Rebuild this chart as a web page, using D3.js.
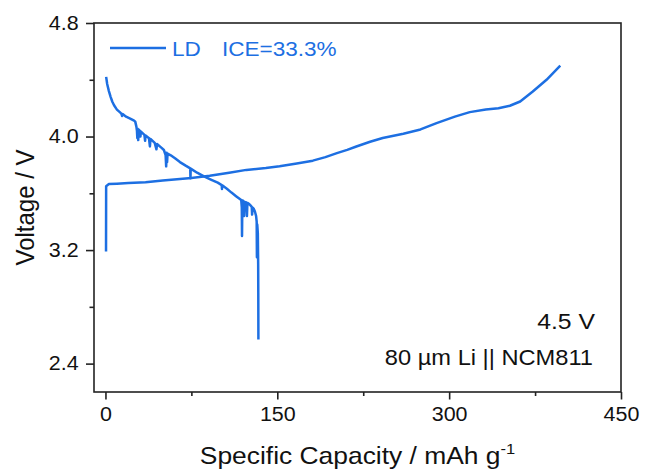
<!DOCTYPE html>
<html>
<head>
<meta charset="utf-8">
<script src="https://cdn.jsdelivr.net/npm/d3@7"></script>
<style>
  html, body { margin: 0; padding: 0; background: #fff; }
  svg { display: block; font-family: Arial, "Liberation Sans", sans-serif; }
</style>
</head>
<body>
<svg id="chart" width="645" height="474"></svg>
<script>
// ---------- data ----------
const chargeCap = [0.5, 0.6, 3, 10, 20, 35, 50, 65, 75, 91, 108, 123, 140, 152, 167, 181, 192, 202, 211, 219, 231, 242, 260, 275, 289, 305, 318, 332, 343, 353, 362, 373, 385, 397];
const chargeV   = [3.19, 3.65, 3.665, 3.668, 3.672, 3.678, 3.69, 3.70, 3.708, 3.723, 3.745, 3.765, 3.778, 3.79, 3.81, 3.83, 3.855, 3.883, 3.906, 3.93, 3.963, 3.99, 4.02, 4.05, 4.095, 4.14, 4.172, 4.19, 4.20, 4.217, 4.247, 4.317, 4.40, 4.50];

const dischargeCap = [0.6, 1.5, 3, 4.5, 6, 7.5, 10, 13, 14, 14.5, 15, 18, 22, 25, 26, 27, 27.5, 27.8, 28.1, 28.6, 29, 30, 30.5, 31, 34, 34.6, 35, 38, 38.8, 39.3, 43, 44.5, 45, 49, 51, 52.5, 53, 53.4, 53.8, 54.2, 57, 61, 65, 70, 74, 74.2, 74.4, 80, 86, 92, 98, 101.5, 101.7, 101.9, 106, 110, 114, 117, 118.5, 119, 119.2, 119.5, 120.5, 121, 121.4, 123, 123.5, 123.9, 125, 126, 127.7, 128, 128.4, 129.5, 130.5, 131.5, 132, 132.2, 132.5, 133, 133.3, 133.4, 133.5];
const dischargeV   = [4.42, 4.37, 4.32, 4.28, 4.245, 4.22, 4.19, 4.168, 4.16, 4.145, 4.158, 4.14, 4.125, 4.112, 4.105, 4.07, 4.04, 3.99, 4.055, 3.975, 4.05, 4.04, 4.0, 4.035, 4.012, 3.97, 4.008, 3.988, 3.93, 3.983, 3.955, 3.91, 3.947, 3.92, 3.905, 3.87, 3.79, 3.885, 3.82, 3.88, 3.868, 3.845, 3.82, 3.795, 3.776, 3.706, 3.774, 3.745, 3.72, 3.697, 3.675, 3.658, 3.63, 3.656, 3.632, 3.605, 3.58, 3.562, 3.553, 3.50, 3.30, 3.55, 3.545, 3.44, 3.54, 3.535, 3.44, 3.532, 3.527, 3.52, 3.505, 3.45, 3.50, 3.49, 3.47, 3.44, 3.40, 3.15, 3.38, 3.32, 3.1, 2.9, 2.57];

const xMajorTicks = [0, 150, 300, 450];
const xMinorTicks = [75, 225, 375];
const yMajorTicks = [2.4, 3.2, 4.0, 4.8];
const yMinorTicks = [2.8, 3.6, 4.4];

const seriesName = "LD";
const iceLabel = "ICE=33.3%";
const xTitle = "Specific Capacity / mAh g";
const xTitleSup = "-1";
const yTitle = "Voltage / V";
const noteVoltage = "4.5 V";
const noteCell = "80 µm Li || NCM811";

// ---------- layout ----------
const W = 645, H = 474;
const L = 94, T = 23, R = 621, B = 392;
const blue = "#1d6fe2";
const ink = "#111";
const SX = 1.1; // horizontal text stretch seen in reference

const svg = d3.select("#chart");
const x = d3.scaleLinear().domain([-10, 450]).range([L, R]);
const y = d3.scaleLinear().domain([2.2, 4.8]).range([B, T]);

// frame
svg.append("rect").attr("x", L).attr("y", T).attr("width", R - L).attr("height", B - T)
  .attr("fill", "none").attr("stroke", "#222").attr("stroke-width", 1.6);

// axes
function styleAxis(g) {
  g.select(".domain").remove();
  g.selectAll("line").attr("stroke", "#222").attr("stroke-width", 1.6);
}
const gxMinor = svg.append("g").attr("transform", `translate(0,${B})`)
  .call(d3.axisBottom(x).tickValues(xMinorTicks).tickSize(4).tickFormat(""));
styleAxis(gxMinor);
const gx = svg.append("g").attr("transform", `translate(0,${B})`)
  .call(d3.axisBottom(x).tickValues(xMajorTicks).tickSize(7.5).tickPadding(8).tickFormat(d3.format("d")));
styleAxis(gx);
gx.selectAll("text").attr("font-size", 19.5).attr("fill", ink)
  .attr("font-family", "Arial, 'Liberation Sans', sans-serif")
  .attr("transform", `scale(${SX},1)`)
  .attr("x", 0);

const gyMinor = svg.append("g").attr("transform", `translate(${L},0)`)
  .call(d3.axisLeft(y).tickValues(yMinorTicks).tickSize(4.5).tickFormat(""));
styleAxis(gyMinor);
const gy = svg.append("g").attr("transform", `translate(${L},0)`)
  .call(d3.axisLeft(y).tickValues(yMajorTicks).tickSize(8).tickPadding(6).tickFormat(d3.format(".1f")));
styleAxis(gy);
gy.selectAll("text").attr("font-size", 19.5).attr("fill", ink)
  .attr("font-family", "Arial, 'Liberation Sans', sans-serif")
  .attr("transform", `scale(${SX},1)`);

// curves
const line = d3.line().curve(d3.curveLinear).x(d => x(d[0])).y(d => y(d[1]));
const charge = chargeCap.map((c, i) => [c, chargeV[i]]);
const discharge = dischargeCap.map((c, i) => [c, dischargeV[i]]);
const plot = svg.append("g");
[charge, discharge].forEach(data => {
  plot.append("path").datum(data).attr("d", line)
    .attr("fill", "none").attr("stroke", blue).attr("stroke-width", 2.5)
    .attr("stroke-linejoin", "round");
});

// helper for stretched text
function label(px, py, txt, size, anchor, color) {
  return svg.append("text")
    .attr("transform", `translate(${px},${py}) scale(${SX},1)`)
    .attr("text-anchor", anchor).attr("font-size", size).attr("fill", color)
    .text(txt);
}

// legend
svg.append("line").attr("x1", 110).attr("x2", 166).attr("y1", 48).attr("y2", 48)
  .attr("stroke", blue).attr("stroke-width", 2.5);
label(172, 56, seriesName, 20.5, "start", blue);
label(222, 56, iceLabel, 20.5, "start", blue);

// notes
label(595, 329, noteVoltage, 22.5, "end", ink);
label(593, 365, noteCell, 21.5, "end", ink);

// x title
const xt = svg.append("text")
  .attr("transform", `translate(${(L + R) / 2},464) scale(${SX},1)`)
  .attr("text-anchor", "middle").attr("font-size", 24).attr("fill", ink);
xt.append("tspan").text(xTitle);
xt.append("tspan").attr("font-size", 15).attr("dy", -10).text(xTitleSup);

// y title
svg.append("text")
  .attr("transform", `translate(34,${(T + B) / 2}) scale(${SX},1) rotate(-90)`)
  .attr("text-anchor", "middle").attr("font-size", 24).attr("fill", ink)
  .text(yTitle);
</script>
</body>
</html>
